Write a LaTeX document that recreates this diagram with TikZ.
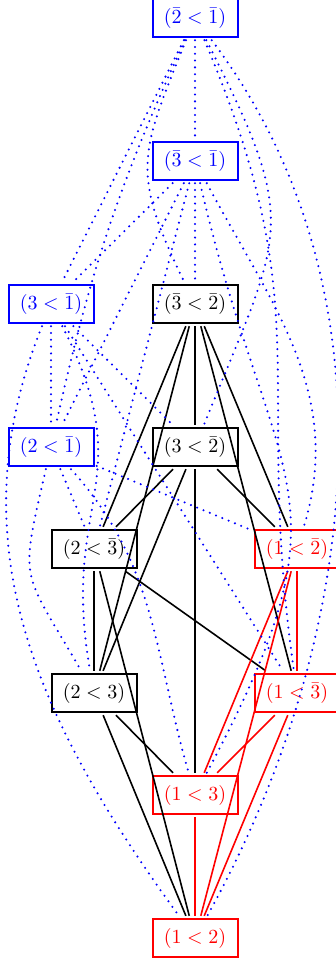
\documentclass[tikz,border=0pt]{standalone}
\begin{document}
\begin{tikzpicture}[x=0.5pt,y=0.5pt,
  box/.style={draw,line width=1pt,minimum width=42.5pt,minimum height=19pt,inner sep=0pt,outer sep=1.6pt,font=\normalsize},
  bl/.style={box,draw=blue,text=blue},
  bk/.style={box,draw=black,text=black},
  rd/.style={box,draw=red,text=red},
  ke/.style={draw=black,line width=0.8pt},
  re/.style={draw=red,line width=0.8pt},
  de/.style={draw=blue,line width=1.15pt,line cap=round,dash pattern=on 0pt off 3.4pt}]
\useasboundingbox (0,0) rectangle (336,-962);
% nodes
\node[bl] (A) at (195,-18)  {$(\bar2<\bar1)$};
\node[bl] (B) at (195,-161) {$(\bar3<\bar1)$};
\node[bl] (C) at (51,-304)  {$(3<\bar1)$};
\node[bk] (D) at (195,-304) {$(\bar3<\bar2)$};
\node[bl] (E) at (51,-447)  {$(2<\bar1)$};
\node[bk] (F) at (195,-447) {$(3<\bar2)$};
\node[bk] (G) at (94,-549)  {$(2<\bar3)$};
\node[rd] (H) at (297,-549) {$(1<\bar2)$};
\node[bk] (I) at (94,-693)  {$(2<3)$};
\node[rd] (J) at (297,-693) {$(1<\bar3)$};
\node[rd] (K) at (195,-795) {$(1<3)$};
\node[rd] (L) at (195,-938) {$(1<2)$};
% black edges
\draw[ke] (D)--(F) (D)--(G) (D)--(I) (D)--(H) (D)--(J);
\draw[ke] (F)--(G) (F)--(I) (F)--(K) (F)--(H);
\draw[ke] (G)--(I) (G)--(L) (G)--(J);
\draw[ke] (I)--(L) (I)--(K);
% red edges
\draw[re] (H)--(J) (H)--(K) (H)--(L) (J)--(K) (J)--(L);
\draw[draw=red,line width=0.6pt] (K)--(L);
% blue dotted edges
\draw[de] (A)--(B);
\draw[de] (A)--(C);
\draw[de] (A) to[bend right=6] (E);
\draw[de] (A) to[out=248,in=116,looseness=1.3] (D);
\draw[de] (A) to[out=297,in=68,looseness=1.4] (F);
\draw[de] (A) to[out=293,in=98,looseness=1.2] (J);
\draw[de] (A) to[out=307,in=61,looseness=0.92] (L);
\draw[de] (B)--(C);
\draw[de] (B)--(E);
\draw[de] (B)--(G);
\draw[de] (B)--(D);
\draw[de] (B) to[out=298,in=73] (H);
\draw[de] (B) to[out=283,in=62,looseness=1.4] (K);
\draw[de] (C)--(E);
\draw[de] (C)--(F);
\draw[de] (C)--(J);
\draw[de] (C) to[out=297,in=100,looseness=1.3] (I);
\draw[de] (C) to[out=248,in=126] (L);
\draw[de] (E) to[out=257,in=120,looseness=1.5] (I);
\draw[de] (E)--(G);
\draw[de] (E)--(H);
\draw[de] (E) to[out=312,in=106] (K);
\end{tikzpicture}
\end{document}
